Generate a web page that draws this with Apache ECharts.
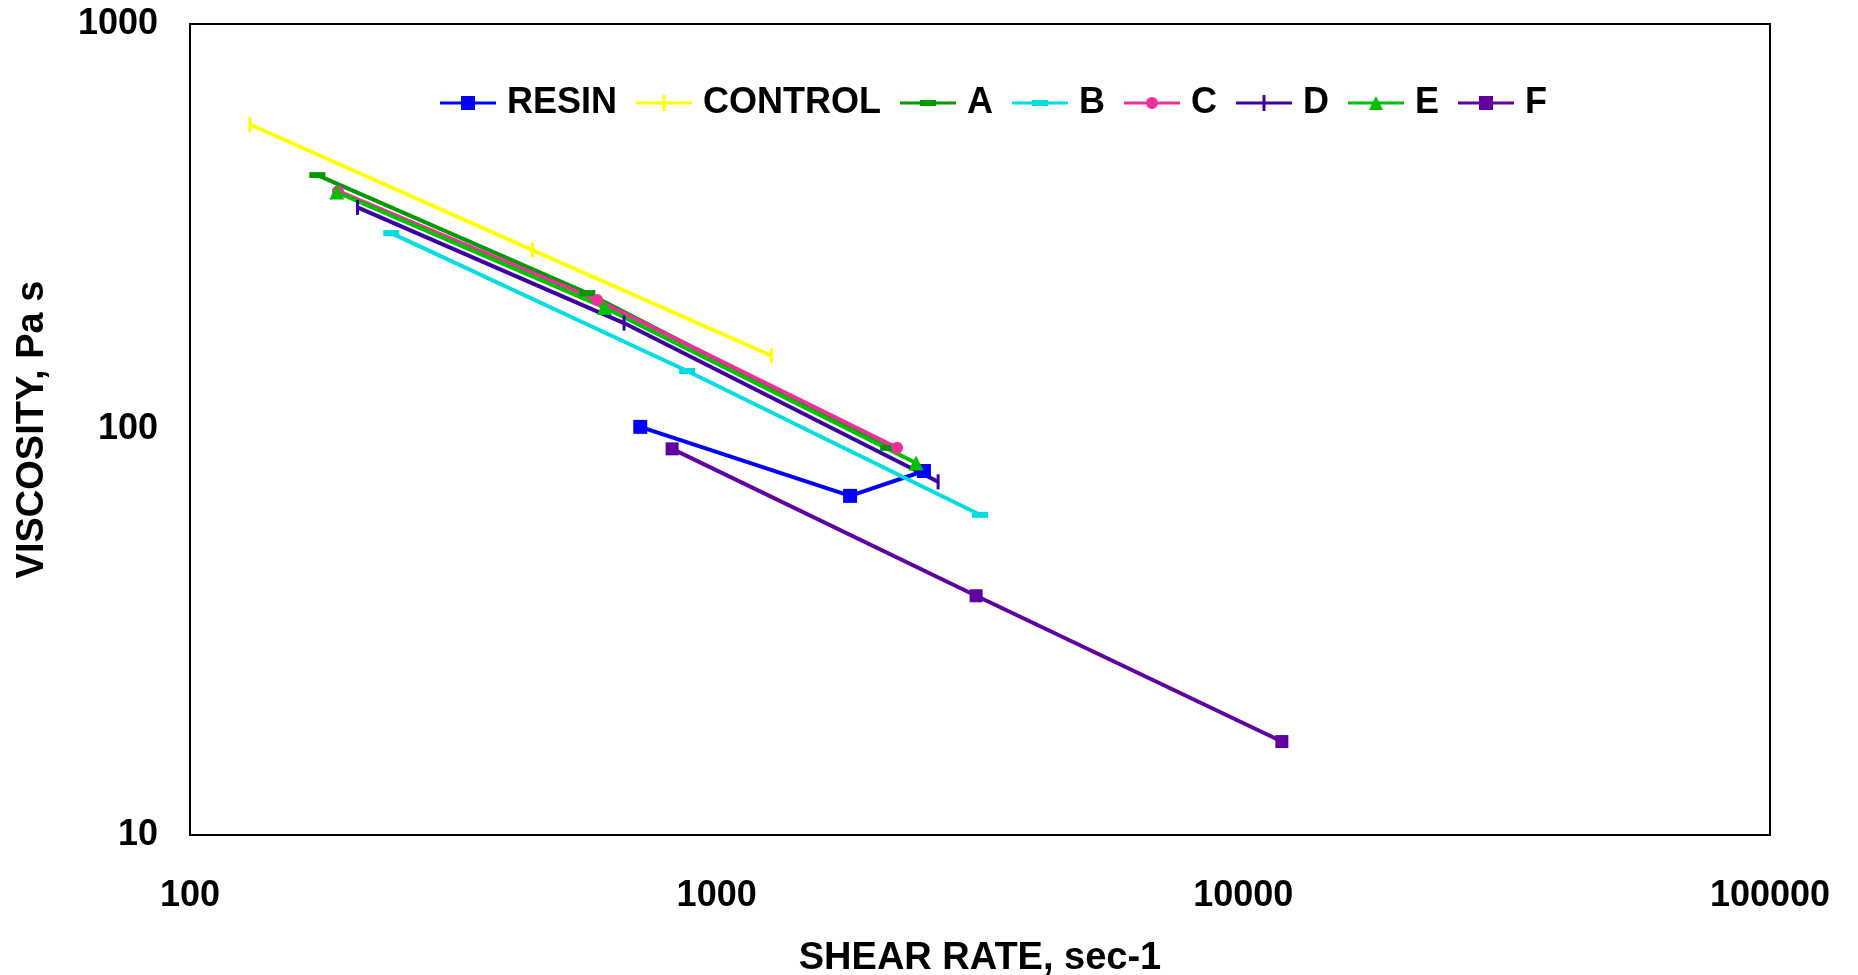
<!DOCTYPE html>
<html>
<head>
<meta charset="utf-8">
<script src="https://cdn.jsdelivr.net/npm/echarts@6/dist/echarts.min.js"></script>
<style>
  html, body { margin: 0; padding: 0; background: #fff; }
  #main { width: 1858px; height: 975px; }
</style>
</head>
<body>
<div id="main"></div>
<script>
// series names shown in the legend
var names = ['RESIN', 'CONTROL', 'A', 'B', 'C', 'D', 'E', 'F'];

// shear rate (sec-1) / viscosity (Pa s)
var resinX = [716, 1792, 2475];
var resinY = [101.5, 68.6, 79.0];
var controlX = [130, 447, 1271];
var controlY = [565, 277, 152];
var aX = [174.5, 568, 2116];
var aY = [424, 217, 90.1];
var bX = [241, 879, 3162];
var bY = [305, 139.4, 61.6];
var cX = [191, 593, 2201];
var cY = [387, 208.5, 90.1];
var dX = [208, 667, 2633];
var dY = [353, 183, 74.3];
var eX = [190, 612, 2391];
var eY = [385, 200, 82.7];
var fX = [823, 3109, 11835];
var fY = [89.6, 38.9, 17.0];

var xTicks = [100, 1000, 10000, 100000];
var yTicks = [10, 100, 1000];

function pairs(xs, ys) {
    var out = [];
    for (var i = 0; i < xs.length; i++) {
        out.push([xs[i], ys[i]]);
    }
    return out;
}

var font = 'Liberation Sans';

// legend icons: line + marker drawn in one path (56 x 16 box)
var bar = 'M0,6.5H56V9.5H0Z';
var icons = {
    square: 'path://' + bar + 'M21,1H35V15H21Z M0,0H0.01V16H0Z',
    tick: 'path://' + bar + 'M26.5,0H29.5V16H26.5Z',
    dash: 'path://' + bar + 'M20,5H36V11H20Z M0,0H0.01V16H0Z',
    circle: 'path://' + bar + 'M22,8A6,6 0 1,1 34,8A6,6 0 1,1 22,8Z M0,0H0.01V16H0Z',
    triangle: 'path://' + bar + 'M28,1L35,15L21,15Z M0,0H0.01V16H0Z'
};

function line(name, xs, ys, color, symbol, size) {
    return {
        name: name,
        type: 'line',
        data: pairs(xs, ys),
        symbol: symbol,
        symbolSize: size,
        showSymbol: true,
        lineStyle: { color: color, width: 4 },
        itemStyle: { color: color },
        emphasis: { disabled: true },
        animation: false
    };
}

var legendIcons = ['square', 'tick', 'dash', 'dash', 'circle', 'tick', 'triangle', 'square'];
var legendData = names.map(function(n, i) {
    return { name: n, icon: icons[legendIcons[i]] };
});

var myChart = echarts.init(document.getElementById('main'));
var option = {
    backgroundColor: '#fff',
    grid: {
        left: 190, top: 24, right: 88, bottom: 140,
        outerBoundsMode: 'none',
        show: true, borderColor: '#000', borderWidth: 2
    },
    legend: {
        data: legendData,
        left: 435,
        top: 80,
        itemWidth: 56,
        itemHeight: 16,
        itemGap: 19,
        textStyle: {
            fontFamily: font, fontWeight: 'bold', fontSize: 36, color: '#000',
            padding: [0, 0, 0, 6]
        }
    },
    xAxis: {
        type: 'log',
        logBase: 10,
        min: xTicks[0],
        max: xTicks[xTicks.length - 1],
        name: 'SHEAR RATE, sec-1',
        nameLocation: 'middle',
        nameGap: 105,
        nameTextStyle: { fontFamily: font, fontWeight: 'bold', fontSize: 38, color: '#000' },
        axisLine: { show: true, lineStyle: { color: '#000', width: 2 } },
        axisTick: { show: false },
        splitLine: { show: false },
        axisLabel: {
            margin: 43, showMinLabel: true, showMaxLabel: true,
            fontFamily: font, fontWeight: 'bold', fontSize: 36, color: '#000',
            formatter: function(v) { return String(Math.round(v)); }
        }
    },
    yAxis: {
        type: 'log',
        logBase: 10,
        min: yTicks[0],
        max: yTicks[yTicks.length - 1],
        name: 'VISCOSITY, Pa s',
        nameLocation: 'middle',
        nameGap: 138,
        nameTextStyle: { fontFamily: font, fontWeight: 'bold', fontSize: 38, color: '#000' },
        axisLine: { show: true, lineStyle: { color: '#000', width: 2 } },
        axisTick: { show: false },
        splitLine: { show: false },
        axisLabel: {
            margin: 32, showMinLabel: true, showMaxLabel: true,
            fontFamily: font, fontWeight: 'bold', fontSize: 36, color: '#000',
            formatter: function(v) { return String(Math.round(v)); }
        }
    },
    series: [
        line('RESIN', resinX, resinY, '#0000ff', 'rect', 14),
        line('CONTROL', controlX, controlY, '#ffff00', 'rect', [3, 15]),
        line('A', aX, aY, '#009900', 'rect', [16, 6]),
        line('B', bX, bY, '#00dde0', 'rect', [16, 6]),
        line('C', cX, cY, '#f0309a', 'circle', 12),
        line('D', dX, dY, '#3c00a0', 'rect', [3, 15]),
        line('E', eX, eY, '#00c000', 'triangle', 15),
        line('F', fX, fY, '#6000a0', 'rect', 13)
    ]
};
myChart.setOption(option);
</script>
</body>
</html>
